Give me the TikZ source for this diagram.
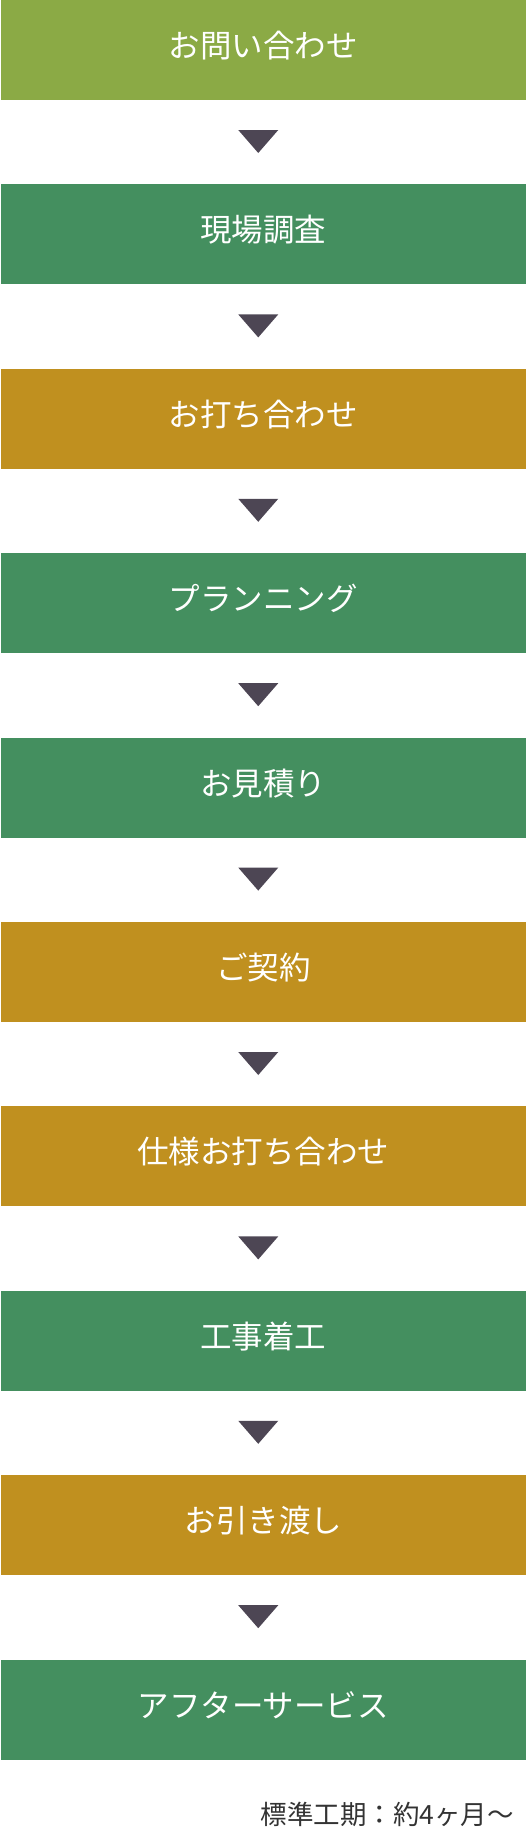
\documentclass[tikz,border=0pt]{standalone}
\usepackage{fontspec}
\newfontfamily\jp{Noto Sans CJK JP}
\usetikzlibrary{calc}
\definecolor{cOlive}{HTML}{8BAA45}
\definecolor{cGreen}{HTML}{448F5F}
\definecolor{cGold}{HTML}{C0901F}
\definecolor{cArrow}{HTML}{4D4654}
\definecolor{cText}{HTML}{333333}
\begin{document}
\begin{tikzpicture}[x=1pt,y=1pt,
  stepbox/.style={minimum width=525.5pt, minimum height=100pt, inner sep=0pt, outer sep=0pt,
    text height=22pt, text depth=7pt,
    text=white, font=\jp\fontsize{31.5}{36}\selectfont, anchor=north west},
  flowtri/.style={fill=cArrow}]
\useasboundingbox (0,0) rectangle (526,-1828);
\node[stepbox, fill=cOlive] (b1) at (0.5,0) {お問い合わせ};
\node[stepbox, fill=cGreen] (b2) at (0.5,-184.4) {現場調査};
\node[stepbox, fill=cGold]  (b3) at (0.5,-368.8) {お打ち合わせ};
\node[stepbox, fill=cGreen] (b4) at (0.5,-553.2) {プランニング};
\node[stepbox, fill=cGreen] (b5) at (0.5,-737.6) {お見積り};
\node[stepbox, fill=cGold]  (b6) at (0.5,-922.0) {ご契約};
\node[stepbox, fill=cGold]  (b7) at (0.5,-1106.4) {仕様お打ち合わせ};
\node[stepbox, fill=cGreen] (b8) at (0.5,-1290.8) {工事着工};
\node[stepbox, fill=cGold]  (b9) at (0.5,-1475.2) {お引き渡し};
\node[stepbox, fill=cGreen] (b10) at (0.5,-1659.6) {アフターサービス};
\foreach \a in {1,...,9}{
  \fill[flowtri] ($(b\a.south)+(-25,-30)$) -- ($(b\a.south)+(15,-30)$) -- ($(b\a.south)+(-5,-53)$) -- cycle;
}
\node[anchor=base east, inner sep=0pt, font=\jp\fontsize{26.5}{30}\selectfont, text=cText] (note) at (514,-1824.5) {標準工期：約4ヶ月～};
\end{tikzpicture}
\end{document}
